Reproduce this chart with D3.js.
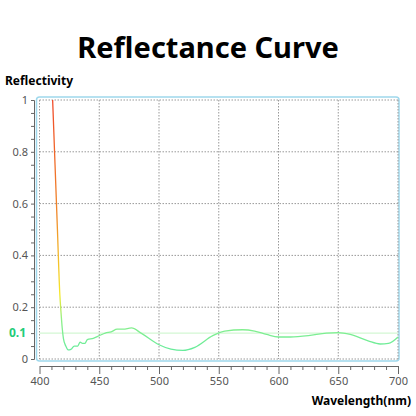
<!DOCTYPE html><html><head><meta charset="utf-8">
<script src="https://cdn.jsdelivr.net/npm/d3@7"></script>
<style>body{margin:0;background:#fff}text{font-family:"Noto Sans",sans-serif}</style></head><body>
<svg id="c" width="416" height="416"></svg>
<script>
const wavelengths=[411,413,415,417,418,419,420,422,424,425,427,429,432,434,436,438,440,445,450,455,460,465,470,477,485,500,510,520,530,545,555,570,580,590,600,610,625,640,650,660,675,685,692,700];
const reflect=[1,0.75,0.5,0.25,0.18,0.12,0.08,0.05,0.035,0.035,0.04,0.05,0.05,0.065,0.06,0.06,0.075,0.08,0.09,0.1,0.105,0.115,0.115,0.12,0.1,0.055,0.038,0.033,0.045,0.09,0.108,0.113,0.108,0.095,0.085,0.085,0.09,0.1,0.102,0.095,0.07,0.058,0.06,0.085];
const yTicks=[0,0.2,0.4,0.6,0.8,1];
const xTicks=[400,450,500,550,600,650,700];
const svg=d3.select("#c");
const x=d3.scaleLinear().domain([400,700]).range([39.5,398]);
const y=d3.scaleLinear().domain([0,1]).range([359,100]);
svg.append("text").attr("x",208).attr("y",58).attr("text-anchor","middle").attr("font-size",29).attr("font-weight","bold").text("Reflectance Curve");
svg.append("text").attr("x",5).attr("y",85).attr("font-size",12).attr("font-weight","bold").text("Reflectivity");
svg.append("text").attr("x",411).attr("y",405).attr("text-anchor","end").attr("font-size",12).attr("font-weight","bold").text("Wavelength(nm)");
svg.append("rect").attr("x",36.5).attr("y",97).attr("width",362.5).attr("height",264).attr("rx",3).attr("fill","none").attr("stroke","#9fd8ec").attr("stroke-width",1.5);
const g=svg.append("g");
yTicks.forEach(t=>{if(t>0)g.append("line").attr("x1",x(400)).attr("x2",x(700)).attr("y1",y(t)).attr("y2",y(t)).attr("stroke","#999").attr("stroke-dasharray","1.5,1.5");});
g.append("line").attr("x1",x(400)).attr("x2",x(700)).attr("y1",y(0)).attr("y2",y(0)).attr("stroke","#999").attr("stroke-dasharray","1.5,1.5");
xTicks.forEach(t=>g.append("line").attr("x1",x(t)).attr("x2",x(t)).attr("y1",y(1)).attr("y2",y(0)).attr("stroke","#999").attr("stroke-dasharray","1.5,1.5"));
g.append("line").attr("x1",x(400)).attr("x2",x(700)).attr("y1",y(0.1)).attr("y2",y(0.1)).attr("stroke","#c8f5c8").attr("stroke-width",1);
// axes
const ya=svg.append("g").attr("transform","translate(34,0)").call(d3.axisLeft(y).tickValues(d3.range(0,1.001,0.05)).tickSize(3).tickFormat(d=>{const r=Math.round(d*100)/100;return yTicks.some(v=>Math.abs(v-r)<1e-6)?d3.format("~g")(r):"";}));
ya.selectAll("text").attr("font-size",11).attr("fill","#555");
ya.selectAll("line,path").attr("stroke","#666");
svg.append("text").attr("x",26).attr("y",y(0.1)+4).attr("text-anchor","end").attr("font-size",12).attr("font-weight","bold").attr("fill","#22cc77").text("0.1");
const xa=svg.append("g").attr("transform","translate(0,366)").call(d3.axisBottom(x).tickValues(d3.range(400,701,10)).tickSize(4).tickSizeOuter(0).tickFormat(d=>d%50===0?d:""));
xa.selectAll(".tick").filter(d=>d%50===0).select("line").attr("y2",8);
xa.selectAll("text").attr("font-size",11).attr("fill","#555").attr("dy","1.1em");
xa.selectAll("line,path").attr("stroke","#666");
const grad=svg.append("defs").append("linearGradient").attr("id","gr").attr("gradientUnits","userSpaceOnUse").attr("x1",0).attr("x2",0).attr("y1",y(1)).attr("y2",y(0));
[[0,"#f04a2a"],[0.45,"#f08a2a"],[0.75,"#f6e82a"],[0.85,"#8ef08a"],[1,"#5ceaa0"]].forEach(([o,c])=>grad.append("stop").attr("offset",o).attr("stop-color",c));
svg.append("path").datum(wavelengths.map((w,i)=>[w,reflect[i]])).attr("d",d3.line().x(d=>x(d[0])).y(d=>y(d[1])).curve(d3.curveMonotoneX)).attr("fill","none").attr("stroke","url(#gr)").attr("stroke-width",1.3);
</script></body></html>
